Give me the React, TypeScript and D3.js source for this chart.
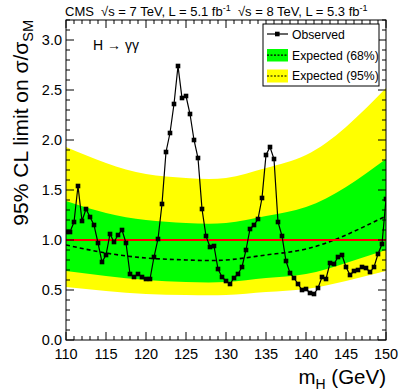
import * as d3 from 'd3';

const W = 407;
const H = 391;
const plot = { left: 66, top: 20, width: 320, height: 320 };

const xTickValues = [110, 115, 120, 125, 130, 135, 140, 145, 150];
const yTickValues = [0, 0.5, 1.0, 1.5, 2.0, 2.5, 3.0];

// expected limit bands (read at 5 GeV steps, smoothed when drawn)
const expMass = [110, 115, 120, 125, 130, 135, 140, 145, 150];
const expMedian = [0.95, 0.87, 0.82, 0.8, 0.8, 0.85, 0.91, 1.05, 1.24];
const exp68Lo = [0.69, 0.64, 0.6, 0.58, 0.58, 0.62, 0.66, 0.77, 0.9];
const exp68Hi = [1.39, 1.27, 1.2, 1.17, 1.17, 1.24, 1.33, 1.53, 1.81];
const exp95Lo = [0.53, 0.49, 0.46, 0.45, 0.45, 0.48, 0.51, 0.59, 0.69];
const exp95Hi = [1.93, 1.77, 1.66, 1.62, 1.62, 1.72, 1.85, 2.13, 2.52];

// observed limit, [mH, limit]
const observed: [number, number][] = [
  [110, 1.08], [110.5, 1.08], [111, 1.18], [111.5, 1.54], [112, 1.19],
  [112.5, 1.31], [113, 1.23], [113.5, 1.15], [114, 0.97], [114.5, 0.78],
  [115, 0.85], [115.5, 1.06], [116, 0.98], [116.5, 1.05], [117, 1.1],
  [117.5, 0.97], [118, 0.66], [118.5, 0.63], [119, 0.66], [119.5, 0.63],
  [120, 0.61], [120.5, 0.61], [121, 0.83], [121.5, 1.01], [122, 1.36],
  [122.5, 1.88], [123, 2.07], [123.5, 2.36], [124, 2.74], [124.5, 2.42],
  [125, 2.44], [125.5, 2.26], [126, 2.0], [126.5, 1.82], [127, 1.31],
  [127.5, 1.04], [128, 0.93], [128.5, 0.94], [129, 0.71], [129.5, 0.63],
  [130, 0.59], [130.5, 0.56], [131, 0.62], [131.5, 0.66], [132, 0.73],
  [132.5, 0.9], [133, 1.11], [133.5, 1.15], [134, 1.21], [134.5, 1.42],
  [135, 1.85], [135.5, 1.93], [136, 1.81], [136.5, 1.18], [137, 1.04],
  [137.5, 0.79], [138, 0.67], [138.5, 0.62], [139, 0.56], [139.5, 0.5],
  [140, 0.51], [140.5, 0.47], [141, 0.46], [141.5, 0.52], [142, 0.63],
  [142.5, 0.61], [143, 0.77], [143.5, 0.76], [144, 0.83], [144.5, 0.85],
  [145, 0.73], [145.5, 0.65], [146, 0.69], [146.5, 0.7], [147, 0.73],
  [147.5, 0.72], [148, 0.68], [148.5, 0.73], [149, 0.86], [149.5, 0.96],
  [150, 1.41],
];

const font = '"Liberation Sans", Arial, Helvetica, sans-serif';

export default function App() {
  const x = d3.scaleLinear().domain([110, 150]).range([plot.left, plot.left + plot.width]);
  const y = d3.scaleLinear().domain([0, 3.2]).range([plot.top + plot.height, plot.top]);
  const x0 = plot.left, x1 = plot.left + plot.width;
  const y0 = plot.top + plot.height, y1 = plot.top;

  const band = (lo: number[], hi: number[]) =>
    d3.area<number>()
      .x(d => x(d))
      .y0((_, i) => y(lo[i]))
      .y1((_, i) => y(hi[i]))
      .curve(d3.curveNatural)(expMass) || '';

  const median = d3.line<number>()
    .x(d => x(d))
    .y((_, i) => y(expMedian[i]))
    .curve(d3.curveNatural)(expMass) || '';

  const obsLine = d3.line<[number, number]>()
    .x(d => x(d[0]))
    .y(d => y(d[1]))(observed) || '';

  const majorLen = 8;
  const minorLen = 4;
  const xMinor = x.ticks(40);
  const yMinor = y.ticks(32);

  return (
    <svg width={W} height={H} style={{ position: 'absolute', left: 0, top: 0, background: '#fff' }}
      fontFamily={font}>
      <defs>
        <clipPath id="frame">
          <rect x={x0} y={y1} width={plot.width} height={plot.height} />
        </clipPath>
      </defs>
      <g clipPath="url(#frame)">
        <path d={band(exp95Lo, exp95Hi)} fill="#ffff00" />
        <path d={band(exp68Lo, exp68Hi)} fill="#00ff00" />
        <path d={median} fill="none" stroke="#000" strokeWidth={1.6} strokeDasharray="4,3" />
        <line x1={x0} x2={x1} y1={y(1)} y2={y(1)} stroke="#ff0000" strokeWidth={2} />
        <path d={obsLine} fill="none" stroke="#000" strokeWidth={1.2} />
        {observed.map((d, i) => (
          <rect key={i} x={x(d[0]) - 2.3} y={y(d[1]) - 2.3} width={4.6} height={4.6} fill="#000" />
        ))}
      </g>

      {/* frame and ticks on all sides */}
      <rect x={x0} y={y1} width={plot.width} height={plot.height} fill="none" stroke="#000" strokeWidth={1} />
      {xMinor.map(t => {
        const len = xTickValues.includes(t) ? majorLen : minorLen;
        return (
          <g key={'x' + t}>
            <line x1={x(t)} x2={x(t)} y1={y0} y2={y0 - len} stroke="#000" />
            <line x1={x(t)} x2={x(t)} y1={y1} y2={y1 + len} stroke="#000" />
          </g>
        );
      })}
      {yMinor.map(t => {
        const major = yTickValues.some(v => Math.abs(v - t) < 1e-6);
        const len = major ? majorLen : minorLen;
        return (
          <g key={'y' + t}>
            <line x1={x0} x2={x0 + len} y1={y(t)} y2={y(t)} stroke="#000" />
            <line x1={x1} x2={x1 - len} y1={y(t)} y2={y(t)} stroke="#000" />
          </g>
        );
      })}

      {xTickValues.map(t => (
        <text key={'xl' + t} x={x(t)} y={359} fontSize={14.5} textAnchor="middle">{t}</text>
      ))}
      {yTickValues.map(t => (
        <text key={'yl' + t} x={62} y={y(t) + 5} fontSize={14.5} textAnchor="end">{t.toFixed(1)}</text>
      ))}

      <text x={x1} y={384} fontSize={20.5} textAnchor="end">
        m<tspan fontSize={14} dy={5}>H</tspan><tspan dy={-5}> (GeV)</tspan>
      </text>
      <text transform={`translate(28,${y1}) rotate(-90)`} fontSize={21} textAnchor="end">
        95% CL limit on σ/σ<tspan fontSize={14.5} dy={5}>SM</tspan>
      </text>

      <text x={65} y={16} fontSize={13} style={{ whiteSpace: 'pre' }}>
        <tspan>CMS  √s = 7 TeV, L = 5.1 fb</tspan><tspan fontSize={9} dy={-5}>-1</tspan>
        <tspan dy={5}>  √s = 8 TeV, L = 5.3 fb</tspan><tspan fontSize={9} dy={-5}>-1</tspan>
      </text>
      <text x={93} y={50} fontSize={14}>H → γγ</text>

      {/* legend */}
      <g>
        <rect x={263} y={24} width={116} height={62} fill="#fff" stroke="#000" strokeWidth={1} />
        <line x1={267} x2={288} y1={34} y2={34} stroke="#000" strokeWidth={1.2} />
        <rect x={275} y={31.7} width={4.6} height={4.6} fill="#000" />
        <text x={292} y={38.5} fontSize={12.2}>Observed</text>
        <rect x={267} y={49} width={21} height={12.5} fill="#00ff00" />
        <line x1={267} x2={288} y1={55.2} y2={55.2} stroke="#000" strokeWidth={1.2} strokeDasharray="2,1.5" />
        <text x={292} y={59.5} fontSize={12.2}>Expected (68%)</text>
        <rect x={267} y={69.5} width={21} height={13} fill="#ffff00" />
        <line x1={267} x2={288} y1={76} y2={76} stroke="#000" strokeWidth={1.2} strokeDasharray="2,1.5" />
        <text x={292} y={80} fontSize={12.2}>Expected (95%)</text>
      </g>
    </svg>
  );
}
